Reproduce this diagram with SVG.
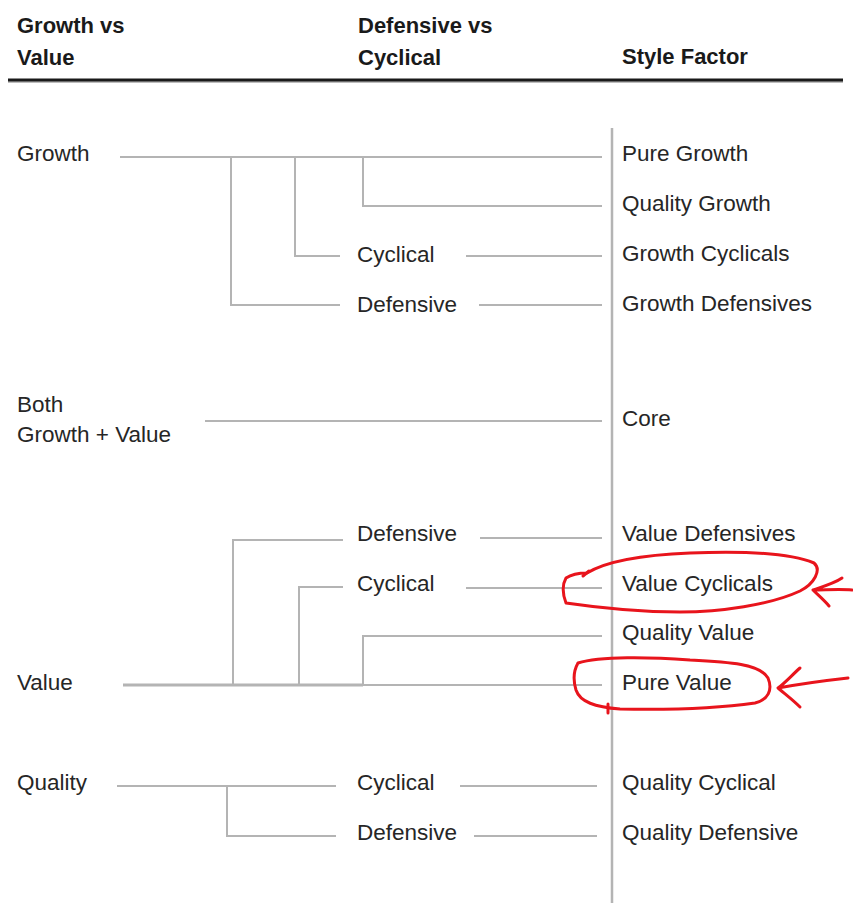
<svg xmlns="http://www.w3.org/2000/svg" width="853" height="903" viewBox="0 0 853 903">
  <style>
    .hd { font-family: "Liberation Sans", Arial, sans-serif; font-weight: bold; font-size: 22px; fill: #1a1a1a; }
    .lb { font-family: "Liberation Sans", Arial, sans-serif; font-size: 22.5px; fill: #262626; }
    .ln { stroke: #b4b4b4; stroke-width: 2; fill: none; }
    .mark { stroke: #e8141c; stroke-width: 3; fill: none; stroke-linecap: round; stroke-linejoin: round; }
  </style>
  <rect width="853" height="903" fill="#ffffff"/>

  <!-- column headings -->
  <g id="headings">
    <text class="hd" x="17" y="33">Growth vs</text>
    <text class="hd" x="17" y="65">Value</text>
    <text class="hd" x="358" y="33">Defensive vs</text>
    <text class="hd" x="358" y="65">Cyclical</text>
    <text class="hd" x="622" y="64">Style Factor</text>
    <line x1="8" y1="82" x2="843" y2="82" stroke="#bdbdbd" stroke-width="2"/>
    <line x1="8" y1="80" x2="843" y2="80" stroke="#1a1a1a" stroke-width="3"/>
  </g>

  <!-- tree connectors -->
  <g id="connectors" class="ln">
    <line x1="612" y1="128" x2="612" y2="903" stroke-width="2.5"/>
    <!-- growth -->
    <path d="M120 157 H602"/>
    <path d="M231 157 V305 H340"/>
    <path d="M295 157 V256 H340"/>
    <path d="M363 157 V206 H602"/>
    <path d="M466 256 H602"/>
    <path d="M479 305 H602"/>
    <!-- core -->
    <path d="M205 421 H602"/>
    <!-- value -->
    <path d="M123 685 H363" stroke-width="3"/>
    <path d="M363 685 H602"/>
    <path d="M233 685 V540 H343"/>
    <path d="M299 685 V587 H343"/>
    <path d="M363 685 V636 H602"/>
    <path d="M480 538 H602"/>
    <path d="M466 588 H602"/>
    <!-- quality -->
    <path d="M117 786 H336"/>
    <path d="M227 786 V836 H336"/>
    <path d="M460 786 H597"/>
    <path d="M474 836 H597"/>
  </g>

  <g id="growth"><text class="lb" x="17" y="161">Growth</text></g>
  <g id="both">
    <text class="lb" x="17" y="412">Both</text>
    <text class="lb" x="17" y="442">Growth + Value</text>
  </g>
  <g id="value"><text class="lb" x="17" y="690">Value</text></g>
  <g id="quality"><text class="lb" x="17" y="790">Quality</text></g>

  <g id="growth-cyclical"><text class="lb" x="357" y="262">Cyclical</text></g>
  <g id="growth-defensive"><text class="lb" x="357" y="312">Defensive</text></g>
  <g id="value-defensive"><text class="lb" x="357" y="541">Defensive</text></g>
  <g id="value-cyclical"><text class="lb" x="357" y="591">Cyclical</text></g>
  <g id="quality-cyclical"><text class="lb" x="357" y="790">Cyclical</text></g>
  <g id="quality-defensive"><text class="lb" x="357" y="840">Defensive</text></g>

  <g id="pure-growth"><text class="lb" x="622" y="161">Pure Growth</text></g>
  <g id="quality-growth"><text class="lb" x="622" y="211">Quality Growth</text></g>
  <g id="growth-cyclicals"><text class="lb" x="622" y="261">Growth Cyclicals</text></g>
  <g id="growth-defensives"><text class="lb" x="622" y="311">Growth Defensives</text></g>
  <g id="core"><text class="lb" x="622" y="426">Core</text></g>
  <g id="value-defensives"><text class="lb" x="622" y="541">Value Defensives</text></g>
  <g id="value-cyclicals"><text class="lb" x="622" y="591">Value Cyclicals</text></g>
  <g id="quality-value"><text class="lb" x="622" y="640">Quality Value</text></g>
  <g id="pure-value"><text class="lb" x="622" y="690">Pure Value</text></g>
  <g id="quality-cyclical-factor"><text class="lb" x="622" y="790">Quality Cyclical</text></g>
  <g id="quality-defensive-factor"><text class="lb" x="622" y="840">Quality Defensive</text></g>

  <!-- hand-drawn red highlights -->
  <g id="highlights" class="mark">
    <path d="M587 573 C605 562 640 555 690 553 C740 551 790 553 814 563 C822 570 814 584 800 591 C770 605 720 612 680 612 C640 612 600 608 566 603 C563 595 562 585 566 578 C572 574 580 573 587 573"/>
    <path d="M583 576 L589 571"/>
    <path d="M852 590 C840 589 825 590 813 590 M842 578 C835 583 822 587 813 590 C818 595 824 600 829 606"/>
    <path d="M578 663 C600 656 650 657 690 660 C730 662 760 664 768 678 C773 690 768 700 755 703 C720 708 670 710 620 709 C595 707 580 702 576 690 C573 680 574 670 578 663"/>
    <path d="M608 704 L608 713"/>
    <path d="M848 678 C830 680 800 684 778 688 M800 668 C792 675 785 683 778 688 C785 694 793 700 800 707"/>
  </g>
</svg>
